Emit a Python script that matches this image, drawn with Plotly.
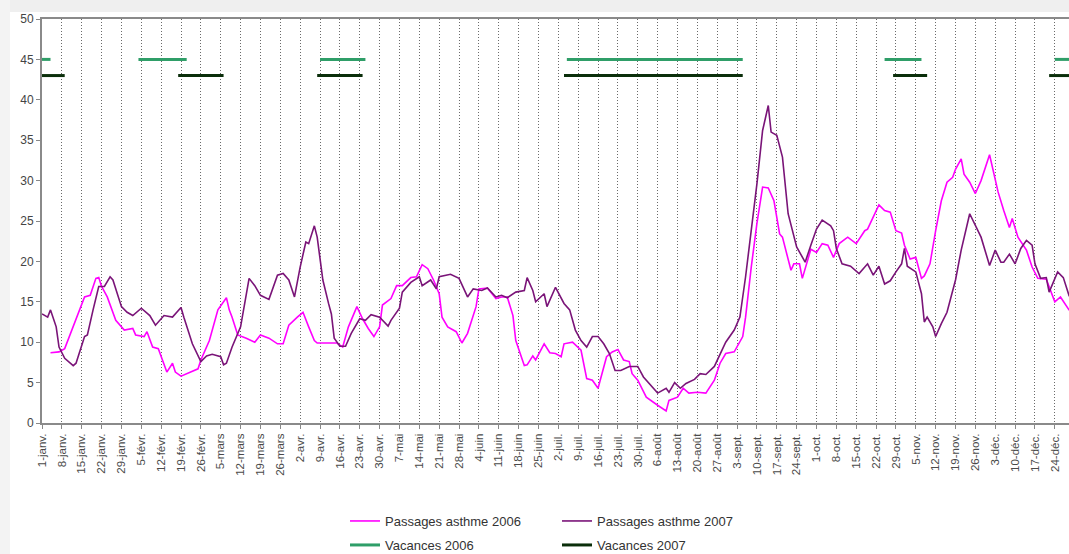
import plotly.graph_objects as go

# ---- data (day of year, 0 = 1 janv.) ----
days_2006 = [3, 6, 8, 11, 15, 17, 19, 20, 21, 23, 26, 29, 32, 33, 36, 37, 39, 41, 44, 46, 47, 49, 52, 55, 56,
             59, 62, 65, 66, 67, 69, 72, 75, 77, 80, 83, 85, 87, 90, 92, 94, 96, 97, 101, 104, 106, 108, 111,
             113, 115, 117, 119, 120, 123, 125, 127, 130, 132, 134, 136, 138, 140, 141, 143, 146, 148, 150,
             153, 154, 157, 160, 162, 164, 166, 167, 170, 171, 173, 174, 177, 179, 181, 183, 184, 187, 190,
             192, 194, 196, 199, 201, 203, 205, 207, 208, 210, 213, 217, 220, 221, 224, 226, 228, 231, 234,
             237, 239, 241, 244, 247, 248, 250, 252, 254, 256, 258, 260, 261, 264, 265, 267, 268, 271, 273,
             275, 277, 279, 281, 284, 287, 290, 291, 293, 295, 297, 299, 301, 303, 304, 306, 308, 310, 311,
             313, 315, 317, 319, 321, 322, 324, 325, 327, 329, 331, 334, 335, 337, 339, 341, 342, 344, 347,
             349, 351, 354, 357, 359, 362, 364]
vals_2006 = [8.7, 8.8, 9.2, 11.9, 15.6, 15.8, 17.9, 18.0, 16.9, 15.6, 12.7, 11.5, 11.7, 10.9, 10.7, 11.3, 9.4,
             9.2, 6.3, 7.4, 6.3, 5.8, 6.3, 6.7, 7.8, 10.2, 14.0, 15.5, 14.0, 13.1, 10.9, 10.5, 10.0, 10.9, 10.5,
             9.8, 9.8, 12.1, 13.1, 13.7, 11.9, 10.2, 9.9, 9.9, 9.9, 9.4, 11.9, 14.4, 12.9, 11.7, 10.7, 11.9,
             14.6, 15.4, 17.0, 17.0, 18.0, 18.1, 19.6, 19.1, 17.7, 16.0, 13.1, 11.9, 11.3, 9.9, 11.1, 14.4,
             16.6, 16.7, 15.4, 15.6, 15.6, 13.3, 10.2, 7.1, 7.2, 8.3, 7.8, 9.8, 8.7, 8.6, 8.2, 9.8, 10.0, 9.0,
             5.5, 5.3, 4.3, 8.2, 8.8, 9.1, 7.8, 7.6, 6.1, 5.3, 3.2, 2.2, 1.5, 2.8, 3.2, 4.3, 3.7, 3.8, 3.7,
             5.3, 7.4, 8.6, 8.8, 10.7, 13.1, 19.3, 24.7, 29.2, 29.1, 27.5, 23.4, 23.0, 18.9, 19.7, 19.7, 17.9,
             21.5, 21.1, 22.2, 22.0, 20.5, 22.2, 23.0, 22.2, 23.8, 24.0, 25.5, 27.0, 26.3, 26.1, 23.8, 23.5,
             22.0, 20.3, 20.5, 17.9, 18.2, 19.7, 23.8, 27.5, 29.8, 30.4, 31.4, 32.7, 30.8, 29.8, 28.4, 30.0,
             33.2, 31.6, 28.6, 26.3, 24.2, 25.3, 23.0, 21.4, 19.3, 17.9, 17.8, 15.0, 15.6, 14.0, 13.8]

days_2007 = [0, 2, 3, 5, 6, 8, 11, 12, 15, 16, 18, 20, 22, 24, 25, 28, 30, 32, 35, 38, 40, 43, 46, 49, 50, 53,
             56, 58, 60, 63, 64, 65, 67, 70, 73, 75, 77, 80, 83, 85, 87, 89, 91, 93, 94, 96, 97, 99, 101, 102,
             103, 105, 107, 109, 112, 114, 116, 119, 122, 123, 126, 127, 130, 133, 134, 137, 139, 140, 144,
             147, 150, 152, 155, 157, 160, 162, 164, 167, 170, 171, 173, 174, 177, 178, 181, 184, 186, 188,
             190, 192, 194, 196, 198, 200, 202, 204, 207, 210, 212, 214, 217, 220, 221, 223, 225, 227, 230,
             232, 234, 237, 239, 241, 244, 246, 248, 250, 252, 254, 256, 257, 259, 261, 263, 266, 269, 271,
             273, 275, 278, 279, 280, 282, 285, 288, 291, 293, 295, 297, 299, 301, 303, 304, 305, 308, 310,
             311, 312, 314, 315, 317, 319, 322, 324, 327, 329, 331, 334, 336, 338, 339, 341, 343, 345, 347,
             349, 350, 352, 354, 355, 358, 360, 362, 364]
vals_2007 = [13.5, 13.1, 14.0, 11.9, 9.4, 8.0, 7.1, 7.4, 10.7, 10.9, 14.0, 16.9, 16.9, 18.1, 17.7, 14.4, 13.7,
             13.3, 14.2, 13.3, 12.1, 13.3, 13.1, 14.3, 13.1, 9.8, 7.6, 8.3, 8.5, 8.2, 7.2, 7.4, 9.4, 11.9, 17.9,
             17.0, 15.8, 15.3, 18.3, 18.5, 17.7, 15.6, 19.3, 22.4, 22.2, 24.4, 23.0, 17.7, 14.8, 13.5, 10.5,
             9.5, 9.5, 11.1, 12.9, 12.7, 13.4, 13.1, 12.0, 12.7, 14.2, 16.2, 17.4, 18.1, 17.0, 17.7, 16.6,
             18.1, 18.4, 17.9, 15.6, 16.6, 16.4, 16.7, 15.6, 15.8, 15.5, 16.2, 16.4, 18.0, 16.4, 15.0, 16.0,
             14.4, 16.8, 14.8, 14.0, 11.5, 10.2, 9.4, 10.7, 10.7, 9.8, 8.6, 6.5, 6.5, 7.0, 7.0, 5.7, 4.9, 3.7,
             4.3, 3.8, 5.0, 4.3, 4.9, 5.4, 6.1, 6.0, 7.0, 8.6, 10.0, 11.5, 13.1, 18.1, 23.8, 29.6, 36.2, 39.3,
             36.0, 35.6, 32.9, 25.9, 21.8, 19.9, 22.0, 24.0, 25.1, 24.4, 23.8, 21.6, 19.7, 19.4, 18.5, 19.7,
             18.3, 19.4, 17.2, 17.6, 18.7, 19.7, 21.6, 19.4, 18.7, 16.0, 12.5, 13.1, 11.9, 10.7, 12.3, 13.7,
             17.7, 21.4, 25.9, 24.4, 23.0, 19.5, 21.4, 19.9, 19.9, 20.9, 19.7, 21.6, 22.6, 22.0, 19.7, 17.9,
             18.0, 16.2, 18.7, 18.0, 15.8, 14.5]

vac2006_start = [0, 34, 98, 185, 297, 357]
vac2006_end = [3, 51, 114, 247, 310, 365]
vac2006_level = 45
vac2007_start = [0, 48, 97, 184, 300, 355]
vac2007_end = [8, 64, 113, 247, 312, 365]
vac2007_level = 43

tick_labels = ["1-janv.", "8-janv.", "15-janv.", "22-janv.", "29-janv.", "5-févr.", "12-févr.", "19-févr.",
               "26-févr.", "5-mars", "12-mars", "19-mars", "26-mars", "2-avr.", "9-avr.", "16-avr.", "23-avr.",
               "30-avr.", "7-mai", "14-mai", "21-mai", "28-mai", "4-juin", "11-juin", "18-juin", "25-juin",
               "2-juil.", "9-juil.", "16-juil.", "23-juil.", "30-juil.", "6-août", "13-août", "20-août",
               "27-août", "3-sept.", "10-sept.", "17-sept.", "24-sept.", "1-oct.", "8-oct.", "15-oct.",
               "22-oct.", "29-oct.", "5-nov.", "12-nov.", "19-nov.", "26-nov.", "3-déc.", "10-déc.",
               "17-déc.", "24-déc."]
tick_days = [7 * i for i in range(len(tick_labels))]


def segments(starts, ends, level):
    xs, ys = [], []
    for s, e in zip(starts, ends):
        xs += [s, e, None]
        ys += [level, level, None]
    return xs, ys


fig = go.Figure()
fig.add_trace(go.Scatter(x=days_2006, y=vals_2006, mode="lines", name="Passages asthme 2006",
                         line=dict(color="#ff00ff", width=1.6), legend="legend"))
fig.add_trace(go.Scatter(x=days_2007, y=vals_2007, mode="lines", name="Passages asthme 2007",
                         line=dict(color="#7a1478", width=1.6), legend="legend"))
vx, vy = segments(vac2006_start, vac2006_end, vac2006_level)
fig.add_trace(go.Scatter(x=vx, y=vy, mode="lines", name="Vacances 2006",
                         line=dict(color="#2f9e68", width=3), legend="legend2"))
vx, vy = segments(vac2007_start, vac2007_end, vac2007_level)
fig.add_trace(go.Scatter(x=vx, y=vy, mode="lines", name="Vacances 2007",
                         line=dict(color="#0a2e0a", width=3), legend="legend2"))

W, H = 1069, 554
ML, MT, MB, MR = 42, 19, 131, 0
PW, PH = W - ML - MR, H - MT - MB


def px2paper_x(px):
    return (px - ML) / PW


def px2paper_y(py):
    return (H - MB - py) / PH


shapes = [
    dict(type="rect", xref="paper", yref="paper", layer="below",
         x0=px2paper_x(0), x1=px2paper_x(W), y0=px2paper_y(12), y1=px2paper_y(0),
         fillcolor="#efefef", line=dict(width=0)),
    dict(type="rect", xref="paper", yref="paper", layer="below",
         x0=px2paper_x(0), x1=px2paper_x(10), y0=px2paper_y(H), y1=px2paper_y(0),
         fillcolor="#f3f3f3", line=dict(width=0)),
]

legend_font = dict(family="Liberation Sans, Arial, sans-serif", size=13, color="#333333")
fig.update_layout(
    width=W, height=H,
    margin=dict(l=ML, r=MR, t=MT, b=MB, pad=0, autoexpand=False),
    paper_bgcolor="white", plot_bgcolor="white",
    font=dict(family="Liberation Sans, Arial, sans-serif", color="#444444"),
    shapes=shapes,
    legend=dict(orientation="h", x=px2paper_x(345), y=px2paper_y(506), xanchor="left", yanchor="top",
                font=legend_font, entrywidth=167, entrywidthmode="pixels", bgcolor="rgba(0,0,0,0)",
                tracegroupgap=0, itemwidth=30),
    legend2=dict(orientation="h", x=px2paper_x(345), y=px2paper_y(530), xanchor="left", yanchor="top",
                 font=legend_font, entrywidth=167, entrywidthmode="pixels", bgcolor="rgba(0,0,0,0)",
                 itemwidth=30),
    xaxis=dict(range=[0, (W - ML - MR) / 2.837], tickvals=tick_days, ticktext=tick_labels, tickangle=-90,
               tickfont=dict(size=11.5, color="#4a4a4a"), ticks="outside", ticklen=4, tickcolor="#888888",
               showline=True, linecolor="#8a8a8a", linewidth=2, mirror=True, automargin=False,
               showgrid=True, gridcolor="#6a6a6a", griddash="1px,2px", gridwidth=1, zeroline=False),
    yaxis=dict(range=[0, 50], tickvals=list(range(0, 51, 5)), tickfont=dict(size=12, color="#444444"),
               ticks="outside", ticklen=4, tickcolor="#888888", showline=True, linecolor="#8a8a8a",
               linewidth=2, showgrid=False, zeroline=False, automargin=False),
    showlegend=True,
)

fig.write_html("out.html", config={"displayModeBar": False},
               post_script="document.body.style.margin='0px';document.body.style.overflow='hidden';")
